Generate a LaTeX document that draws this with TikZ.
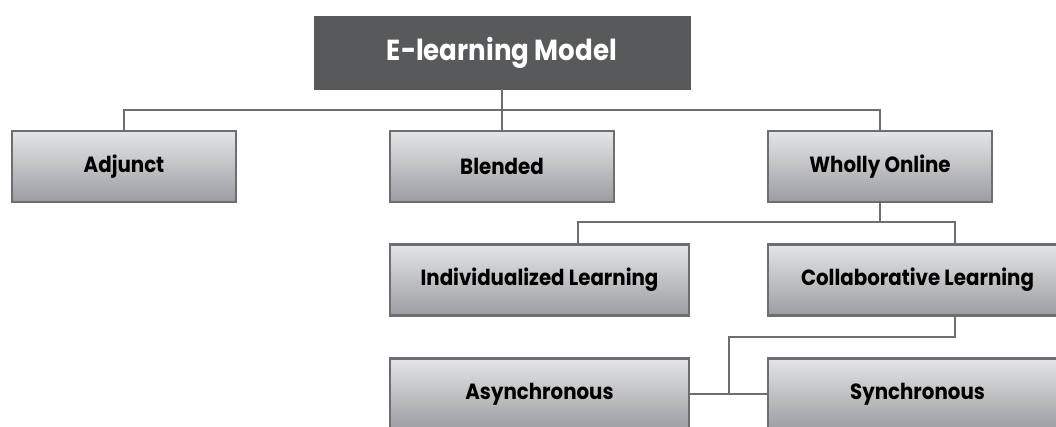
\documentclass[tikz,border=0pt]{standalone}
\usepackage{fontspec}
\setmainfont{Poppins}
\newfontfamily\boxfont{Poppins}[FakeStretch=0.9]
\usetikzlibrary{calc}
\definecolor{edge}{HTML}{6D6E71}
\definecolor{boxtop}{HTML}{E4E5E7}
\definecolor{boxbot}{HTML}{9C9DA0}
\definecolor{titlefill}{HTML}{58595B}
\tikzset{
  box/.style={draw=edge, line width=2.5pt, top color=boxtop, bottom color=boxbot,
    minimum height=71pt, inner sep=0pt, outer sep=0pt,
    font=\boxfont\fontsize{22}{26}\selectfont\bfseries, text=black},
  titlebox/.style={fill=titlefill, draw=titlefill, line width=1pt, minimum width=376pt, minimum height=73pt,
    inner sep=0pt, outer sep=0pt, font=\boxfont\fontsize{29}{34}\selectfont\bfseries, text=white},
  conn/.style={draw=edge, line width=2.5pt},
}
\begin{document}
\begin{tikzpicture}[x=1pt,y=-1pt]
\useasboundingbox (0,0) rectangle (1056,427);
\node[titlebox] (title) at (502,53) {E-learning Model};
\node[box, minimum width=224pt] (adj) at (124,166.5) {Adjunct};
\node[box, minimum width=224pt] (blend) at (502,166.5) {Blended};
\node[box, minimum width=224pt] (whol) at (880,166.5) {Wholly Online};
\node[box, minimum width=299pt] (indiv) at (539.5,280) {Individualized Learning};
\node[box, minimum width=299pt] (coll) at (917.5,280) {Collaborative Learning};
\node[box, minimum width=299pt] (async) at (539.5,394) {Asynchronous};
\node[box, minimum width=299pt] (sync) at (917.5,394) {Synchronous};
\coordinate (h1) at (502,110);
\coordinate (h2) at (880,222);
\coordinate (i1) at (578,222);
\coordinate (c1) at (955,222);
\coordinate (c2) at (955,337);
\coordinate (a1) at (729,337);
\coordinate (a2) at (729,394);
\draw[conn] (title.south) -- (blend.north);
\draw[conn] (adj.north) |- (h1) -| (whol.north);
\draw[conn] (whol.south) -- (h2);
\draw[conn] (i1 |- indiv.north) -- (i1) -- (c1) -- (c1 |- coll.north);
\draw[conn] (c1 |- coll.south) -- (c2) -- (a1) -- (a2);
\draw[conn] (async.east) -- (sync.west);
\end{tikzpicture}
\end{document}
